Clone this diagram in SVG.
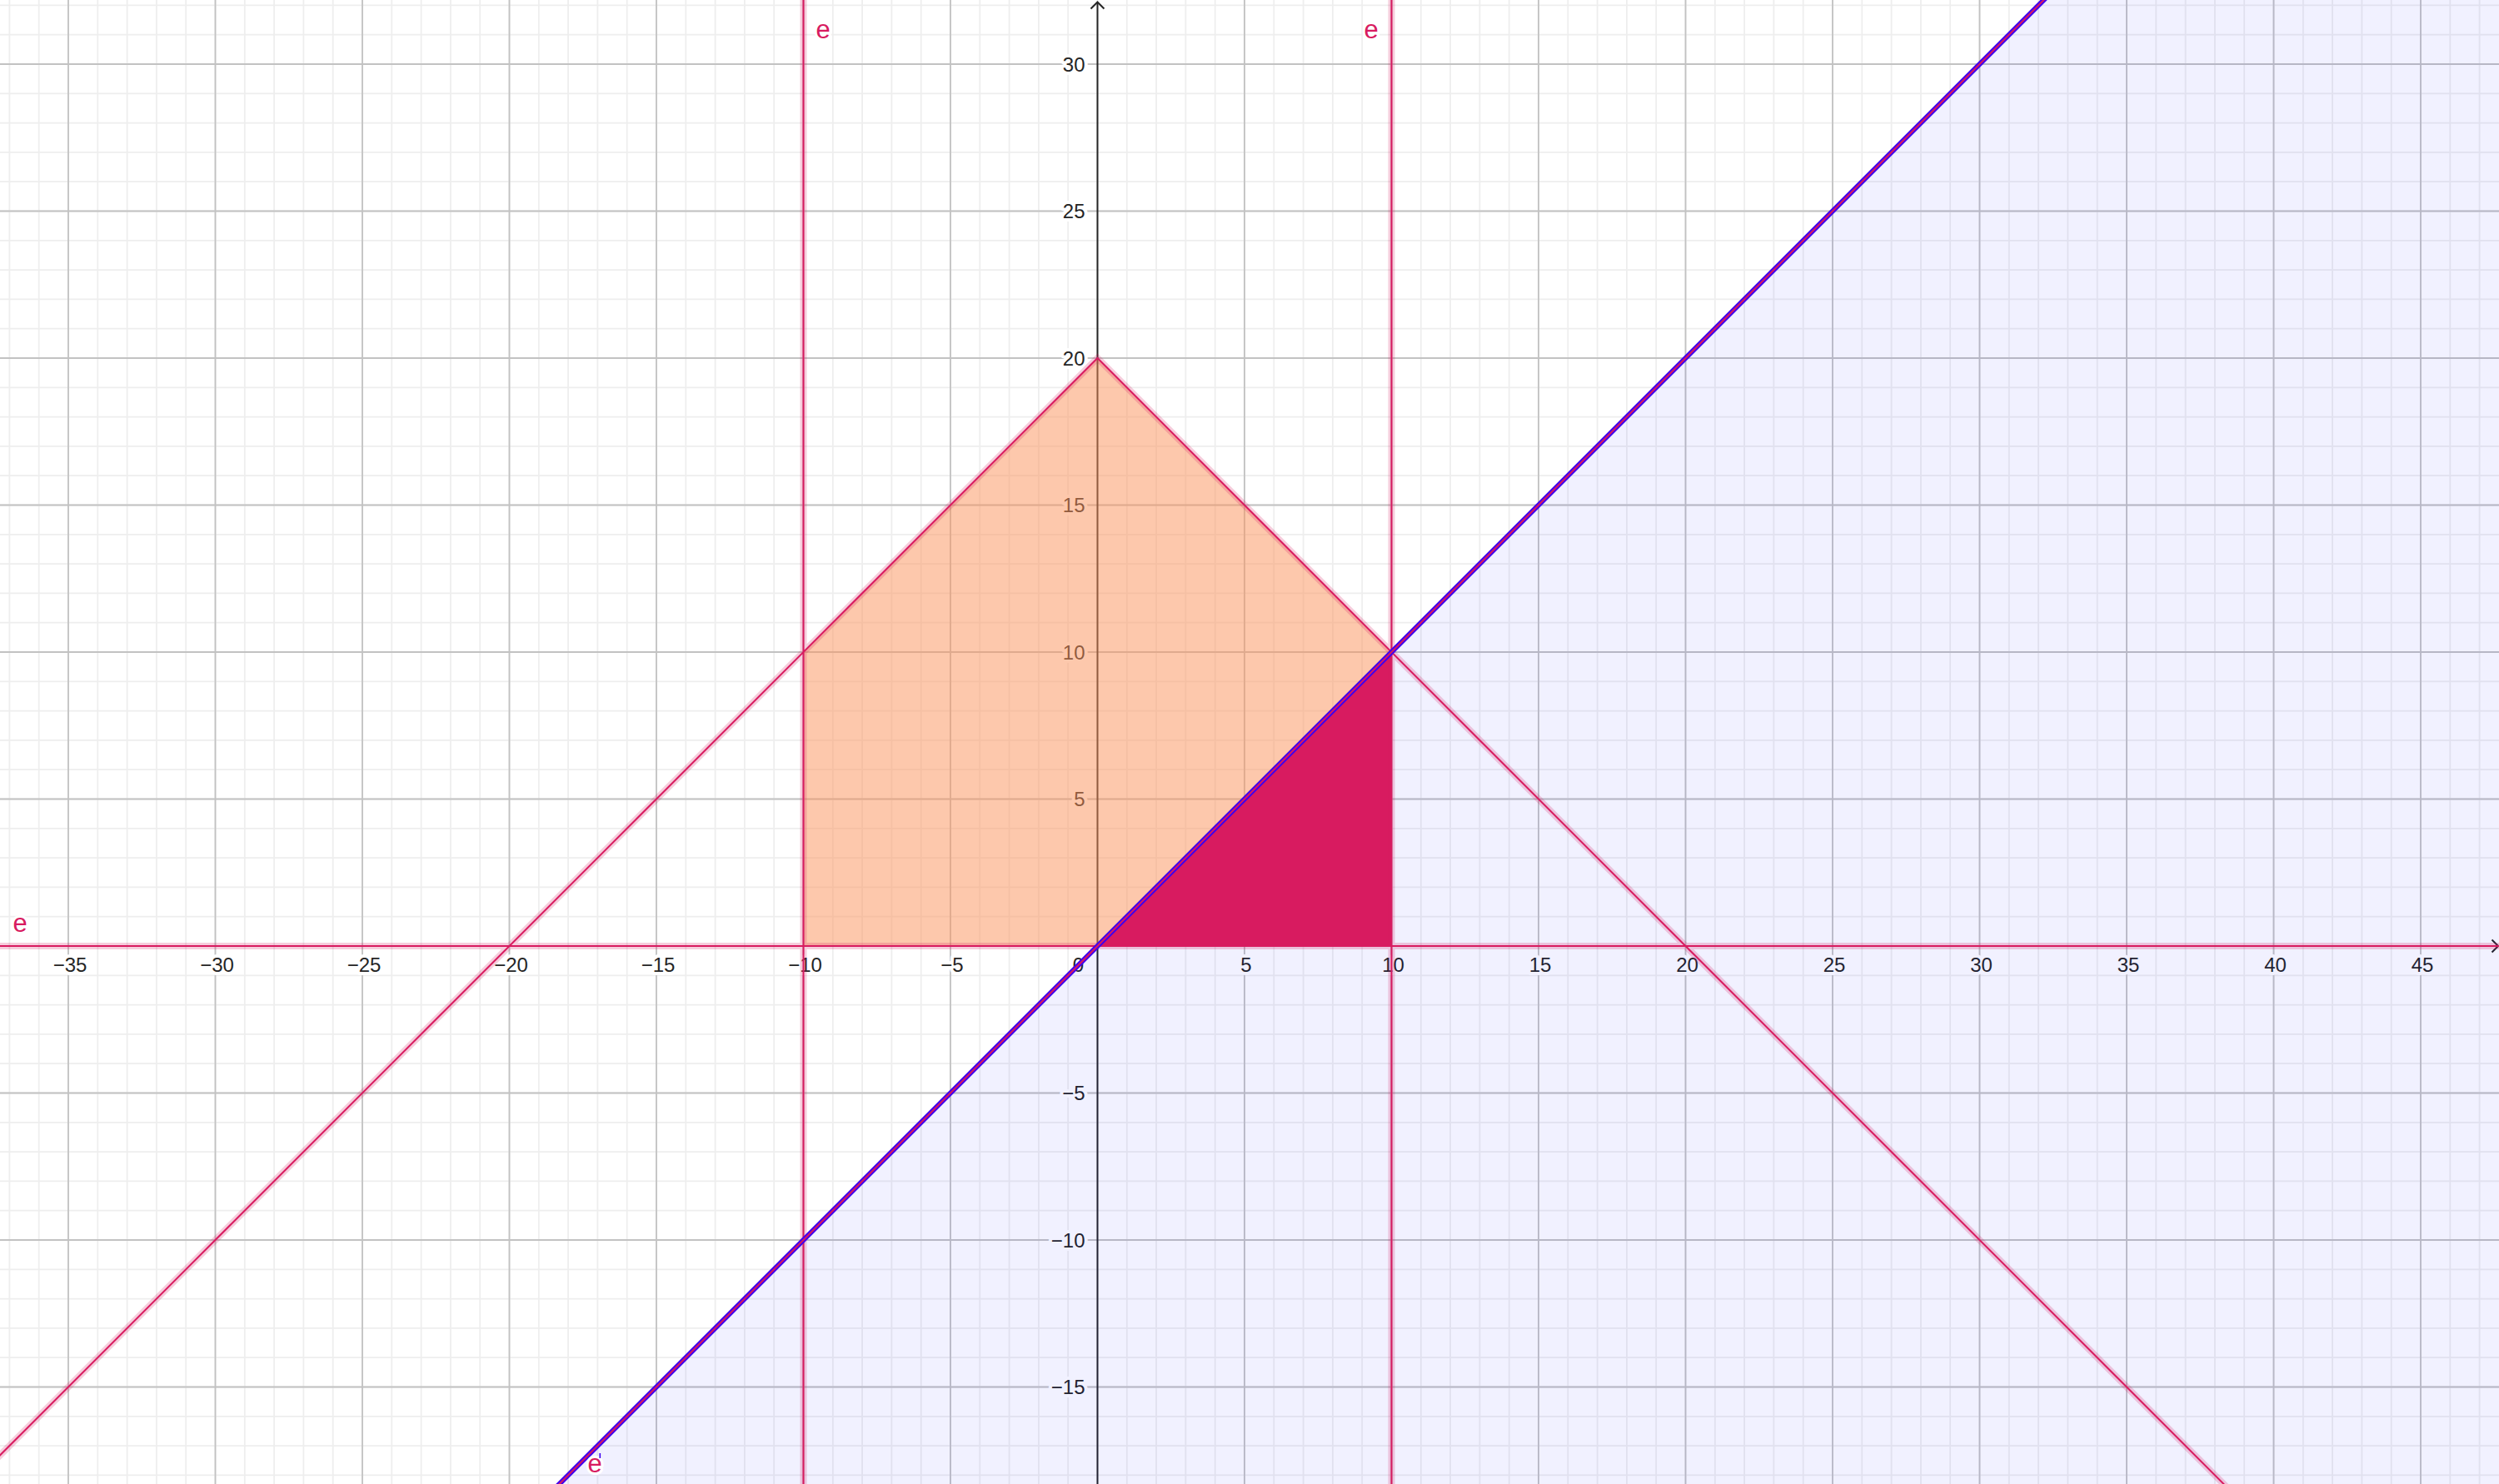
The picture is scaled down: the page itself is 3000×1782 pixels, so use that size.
<svg xmlns="http://www.w3.org/2000/svg" width="3000" height="1782" viewBox="0 0 3000 1782">
<style>
.minor{stroke:#eeeeee;stroke-width:1.8;fill:none}
.major{stroke:#c2c2c2;stroke-width:1.8;fill:none}
.axis{stroke:#252525;stroke-width:2;fill:none}
.tick{font-family:"Liberation Sans",Arial,sans-serif;font-size:24px;fill:#252525;stroke:#ffffff;stroke-width:8;stroke-linejoin:round;paint-order:stroke}
.tx{text-anchor:middle}
.ty{text-anchor:end}
.halo{stroke:#d81b60;stroke-opacity:0.22;stroke-width:8;fill:none}
.pink{stroke:#d81b60;stroke-width:2;fill:none}
.blue{stroke:#3f00f0;stroke-width:6;fill:none}
.lbl{font-family:"Liberation Sans",Arial,sans-serif;font-size:31px;fill:#d81b60;stroke:#ffffff;stroke-width:6;stroke-linejoin:round;paint-order:stroke}
</style>
<rect width="3000" height="1782" fill="#ffffff"/>
<g transform="translate(0.5,0)">
<g id="grid">
<path class="minor" d="M10.9 0V1782M46.2 0V1782M81.5 0V1782M116.8 0V1782M152.1 0V1782M187.4 0V1782M222.7 0V1782M258 0V1782M293.3 0V1782M328.6 0V1782M363.9 0V1782M399.2 0V1782M434.5 0V1782M469.8 0V1782M505.1 0V1782M540.4 0V1782M575.7 0V1782M611 0V1782M646.3 0V1782M681.6 0V1782M716.9 0V1782M752.2 0V1782M787.5 0V1782M822.8 0V1782M858.1 0V1782M893.4 0V1782M928.7 0V1782M964 0V1782M999.3 0V1782M1034.6 0V1782M1069.9 0V1782M1105.2 0V1782M1140.5 0V1782M1175.8 0V1782M1211.1 0V1782M1246.4 0V1782M1281.7 0V1782M1317 0V1782M1352.3 0V1782M1387.6 0V1782M1422.9 0V1782M1458.2 0V1782M1493.5 0V1782M1528.8 0V1782M1564.1 0V1782M1599.4 0V1782M1634.7 0V1782M1670 0V1782M1705.3 0V1782M1740.6 0V1782M1775.9 0V1782M1811.2 0V1782M1846.5 0V1782M1881.8 0V1782M1917.1 0V1782M1952.4 0V1782M1987.7 0V1782M2023 0V1782M2058.3 0V1782M2093.6 0V1782M2128.9 0V1782M2164.2 0V1782M2199.5 0V1782M2234.8 0V1782M2270.1 0V1782M2305.4 0V1782M2340.7 0V1782M2376 0V1782M2411.3 0V1782M2446.6 0V1782M2481.9 0V1782M2517.2 0V1782M2552.5 0V1782M2587.8 0V1782M2623.1 0V1782M2658.4 0V1782M2693.7 0V1782M2729 0V1782M2764.3 0V1782M2799.6 0V1782M2834.9 0V1782M2870.2 0V1782M2905.5 0V1782M2940.8 0V1782M2976.1 0V1782"/>
<path class="minor" d="M-10 6.4H3010M-10 41.7H3010M-10 77H3010M-10 112.3H3010M-10 147.6H3010M-10 182.9H3010M-10 218.2H3010M-10 253.5H3010M-10 288.8H3010M-10 324.1H3010M-10 359.4H3010M-10 394.7H3010M-10 430H3010M-10 465.3H3010M-10 500.6H3010M-10 535.9H3010M-10 571.2H3010M-10 606.5H3010M-10 641.8H3010M-10 677.1H3010M-10 712.4H3010M-10 747.7H3010M-10 783H3010M-10 818.3H3010M-10 853.6H3010M-10 888.9H3010M-10 924.2H3010M-10 959.5H3010M-10 994.8H3010M-10 1030.1H3010M-10 1065.4H3010M-10 1100.7H3010M-10 1136H3010M-10 1171.3H3010M-10 1206.6H3010M-10 1241.9H3010M-10 1277.2H3010M-10 1312.5H3010M-10 1347.8H3010M-10 1383.1H3010M-10 1418.4H3010M-10 1453.7H3010M-10 1489H3010M-10 1524.3H3010M-10 1559.6H3010M-10 1594.9H3010M-10 1630.2H3010M-10 1665.5H3010M-10 1700.8H3010M-10 1736.1H3010M-10 1771.4H3010"/>
<path class="major" d="M81.5 0V1782M258 0V1782M434.5 0V1782M611 0V1782M787.5 0V1782M964 0V1782M1140.5 0V1782M1493.5 0V1782M1670 0V1782M1846.5 0V1782M2023 0V1782M2199.5 0V1782M2376 0V1782M2552.5 0V1782M2729 0V1782M2905.5 0V1782M-10 77H3010M-10 253.5H3010M-10 430H3010M-10 606.5H3010M-10 783H3010M-10 959.5H3010M-10 1312.5H3010M-10 1489H3010M-10 1665.5H3010"/>
</g>
<g id="axes">
<path class="axis" d="M-10 1136H2998M1317 1782V3"/>
<path class="axis" d="M2991 1128.5L2998.5 1136L2991 1143.5M1309 10.5L1317 2.5L1325 10.5"/>
</g>
<g id="tick-labels">
<text class="tick tx" x="83.5" y="1167">−35</text>
<text class="tick tx" x="260" y="1167">−30</text>
<text class="tick tx" x="436.5" y="1167">−25</text>
<text class="tick tx" x="613" y="1167">−20</text>
<text class="tick tx" x="789.5" y="1167">−15</text>
<text class="tick tx" x="966" y="1167">−10</text>
<text class="tick tx" x="1142.5" y="1167">−5</text>
<text class="tick ty" x="1300.5" y="1167">0</text>
<text class="tick tx" x="1495.5" y="1167">5</text>
<text class="tick tx" x="1672" y="1167">10</text>
<text class="tick tx" x="1848.5" y="1167">15</text>
<text class="tick tx" x="2025" y="1167">20</text>
<text class="tick tx" x="2201.5" y="1167">25</text>
<text class="tick tx" x="2378" y="1167">30</text>
<text class="tick tx" x="2554.5" y="1167">35</text>
<text class="tick tx" x="2731" y="1167">40</text>
<text class="tick tx" x="2907.5" y="1167">45</text>
<text class="tick ty" x="1302" y="85.5">30</text>
<text class="tick ty" x="1302" y="262">25</text>
<text class="tick ty" x="1302" y="438.5">20</text>
<text class="tick ty" x="1302" y="615">15</text>
<text class="tick ty" x="1302" y="791.5">10</text>
<text class="tick ty" x="1302" y="968">5</text>
<text class="tick ty" x="1302" y="1321">−5</text>
<text class="tick ty" x="1302" y="1497.5">−10</text>
<text class="tick ty" x="1302" y="1674">−15</text>
</g>
<g id="regions">
<polygon id="half-plane" points="671,1782 2453,0 3010,0 3010,1782" fill="#1010ff" fill-opacity="0.057"/>
<polygon id="pentagon" points="964,1136 964,783 1317,430 1670,783 1317,1136" fill="#fb9159" fill-opacity="0.5"/>
<polygon id="triangle" points="1317,1136 1670,783 1670,1136" fill="#d81b60"/>
</g>
<g id="connectors">
<path class="halo" d="M-10 1757L1317 430L2690 1803M964 0V1782M1670 0V1782M-10 1136H3010"/>
<path class="pink" d="M-10 1757L1317 430L2690 1803M964 0V1782M1670 0V1782M-10 1136H3010"/>
<path class="blue" d="M600 1853L2500 -47"/>
<path class="pink" stroke-width="1.1" d="M600 1853L2500 -47"/>
</g>
<g id="line-labels">
<text class="lbl" x="979" y="46">e</text>
<text class="lbl" x="1637" y="46">e</text>
<text class="lbl" x="15" y="1119">e</text>
<text class="lbl" x="705" y="1768">e</text>
<rect x="719" y="1745" width="1.6" height="6" fill="#3f00f0"/>
</g>
</g>
</svg>
